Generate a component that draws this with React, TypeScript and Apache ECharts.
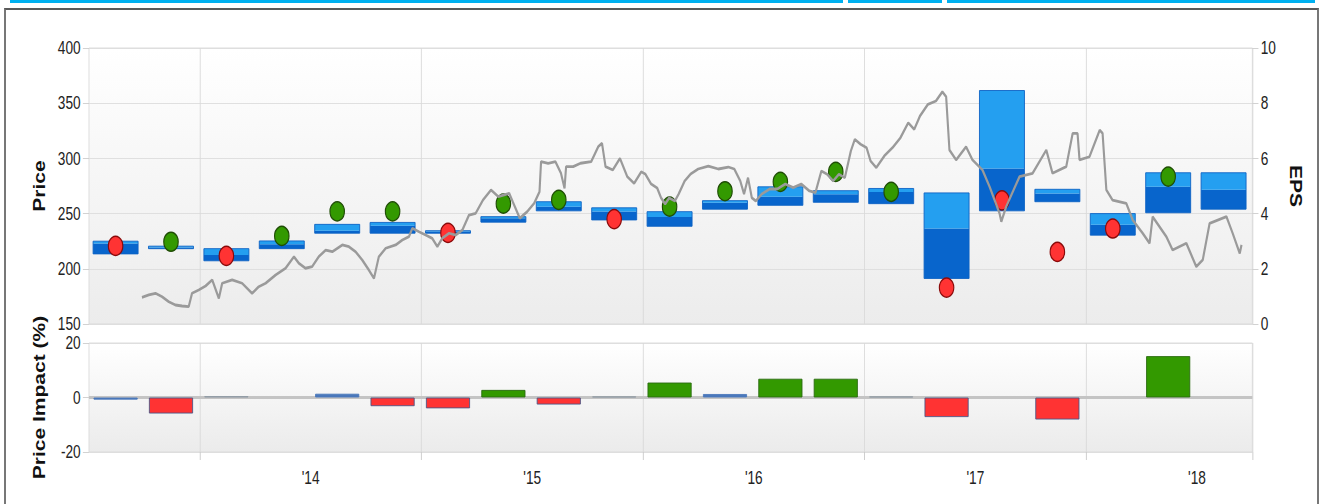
import React, { useEffect, useRef } from 'react';
import * as echarts from 'echarts';

// ---------- data ----------
const quarterTimes = [
  2013.62, 2013.87, 2014.12, 2014.37, 2014.62, 2014.87, 2015.12, 2015.37, 2015.62, 2015.87,
  2016.12, 2016.37, 2016.62, 2016.87, 2017.12, 2017.37, 2017.62, 2017.87, 2018.12, 2018.37, 2018.62,
];
const epsHigh = [3.0, 2.79, 2.73, 3.01, 3.61, 3.68, 3.38, 3.89, 4.43, 4.21, 4.07, 4.47, 4.97, 4.83, 4.91, 4.75, 8.46, 4.88, 4.0, 5.48, 5.48];
const epsMid = [2.92, 2.775, 2.5, 2.89, 3.38, 3.56, 3.35, 3.83, 4.25, 4.08, 3.88, 4.39, 4.61, 4.7, 4.78, 3.46, 5.63, 4.73, 3.6, 4.97, 4.86];
const epsLow = [2.54, 2.76, 2.29, 2.73, 3.29, 3.29, 3.29, 3.69, 4.1, 3.77, 3.54, 4.16, 4.3, 4.41, 4.36, 1.65, 4.1, 4.43, 3.22, 4.03, 4.16];
const epsActual = [2.83, 2.98, 2.47, 3.19, 4.08, 4.08, 3.3, 4.36, 4.5, 3.8, 4.25, 4.81, 5.15, 5.51, 4.79, 1.32, 4.48, 2.61, 3.46, 5.34, null];
const priceImpact = [-0.8, -5.9, 0.5, 0, 1.4, -3.2, -4.0, 2.8, -2.6, 0.4, 5.5, 1.3, 6.9, 6.9, 0.4, -7.2, 0, -8.1, 0, 15.2, 0];

const priceSeries = [
  [2013.739, 174.2], [2013.77, 176.3], [2013.8, 177.8], [2013.83, 174.7], [2013.86, 170.2], [2013.89, 167.2],
  [2013.92, 166.3], [2013.95, 165.7], [2013.965, 177.8], [2013.995, 180.8], [2014.026, 184.4], [2014.056, 189.9],
  [2014.086, 173.3], [2014.101, 186.9], [2014.146, 189.9], [2014.191, 186.9], [2014.236, 177.8], [2014.266, 183.8],
  [2014.297, 186.9], [2014.342, 194.4], [2014.387, 200.5], [2014.425, 211.0], [2014.447, 205.0], [2014.477, 200.5],
  [2014.507, 201.9], [2014.537, 211.0], [2014.568, 217.0], [2014.598, 215.5], [2014.643, 221.6], [2014.673, 220.0],
  [2014.703, 215.5], [2014.733, 208.0], [2014.763, 198.9], [2014.786, 191.4], [2014.808, 211.0], [2014.839, 218.6],
  [2014.884, 221.6], [2014.914, 226.1], [2014.944, 229.1], [2014.959, 236.7], [2014.989, 233.6], [2015.019, 230.6],
  [2015.049, 227.6], [2015.072, 220.0], [2015.094, 227.6], [2015.125, 232.2], [2015.155, 230.6], [2015.185, 235.1],
  [2015.215, 248.7], [2015.245, 250.3], [2015.278, 262.3], [2015.314, 271.4], [2015.347, 265.3], [2015.396, 268.4],
  [2015.412, 260.8], [2015.444, 245.8], [2015.477, 251.7], [2015.509, 259.3], [2015.533, 269.8], [2015.54, 297.0],
  [2015.572, 295.6], [2015.605, 297.0], [2015.63, 286.5], [2015.646, 272.9], [2015.653, 292.5], [2015.685, 292.5],
  [2015.718, 295.6], [2015.766, 297.0], [2015.798, 310.6], [2015.815, 313.7], [2015.831, 292.5], [2015.864, 289.5],
  [2015.896, 300.1], [2015.929, 283.4], [2015.96, 277.4], [2015.992, 287.9], [2016.01, 285.9], [2016.037, 276.8],
  [2016.064, 273.2], [2016.082, 264.1], [2016.1, 258.7], [2016.118, 264.1], [2016.144, 261.4], [2016.161, 267.7],
  [2016.188, 279.5], [2016.215, 285.9], [2016.249, 290.4], [2016.295, 293.1], [2016.34, 290.4], [2016.385, 292.2],
  [2016.412, 290.4], [2016.439, 279.5], [2016.456, 267.7], [2016.474, 282.5], [2016.491, 264.4], [2016.509, 261.4],
  [2016.536, 267.7], [2016.572, 272.3], [2016.606, 272.3], [2016.642, 276.8], [2016.678, 273.5], [2016.714, 276.8],
  [2016.751, 270.5], [2016.778, 268.9], [2016.805, 288.6], [2016.831, 285.6], [2016.858, 279.5], [2016.884, 285.6],
  [2016.911, 282.5], [2016.938, 306.7], [2016.956, 317.3], [2016.982, 312.8], [2017.009, 309.7], [2017.027, 297.7],
  [2017.053, 291.6], [2017.089, 302.2], [2017.126, 309.7], [2017.162, 318.8], [2017.197, 332.3], [2017.224, 326.3],
  [2017.25, 338.4], [2017.286, 349.0], [2017.322, 352.0], [2017.351, 360.4], [2017.368, 355.9], [2017.383, 307.6],
  [2017.413, 298.6], [2017.458, 310.6], [2017.487, 298.6], [2017.532, 289.5], [2017.564, 274.4], [2017.609, 250.3],
  [2017.617, 242.7], [2017.639, 256.3], [2017.699, 283.4], [2017.758, 286.5], [2017.82, 307.6], [2017.848, 286.5],
  [2017.91, 292.5], [2017.939, 322.7], [2017.961, 322.7], [2017.97, 298.6], [2018.015, 301.5], [2018.061, 325.7],
  [2018.074, 322.7], [2018.091, 271.4], [2018.119, 262.3], [2018.181, 259.3], [2018.21, 244.2], [2018.255, 232.2],
  [2018.286, 223.1], [2018.3, 247.2], [2018.362, 229.0], [2018.39, 217.0], [2018.452, 223.1], [2018.497, 201.9],
  [2018.526, 208.0], [2018.557, 241.2], [2018.633, 247.2], [2018.661, 232.2], [2018.693, 214.0], [2018.701, 221.6],
];

// ---------- layout (outer px -> inner px, chart is squeezed horizontally) ----------
const SX = 0.76;
const W = 1321 / SX;
const H = 504;
const ix = (x: number) => x / SX;
const FONT = 'Liberation Sans, Arial, sans-serif';

const X_MIN = 2013.5;
const X_MAX = 2018.75;

function impactColor(v: number) {
  if (v === 0) return { fill: 'rgba(0,0,0,0)', border: 'rgba(0,0,0,0)' };
  if (v >= 2) return { fill: '#339900', border: '#2a6a10' };
  if (v <= -2) return { fill: '#ff3333', border: '#4b5585' };
  if (Math.abs(v) >= 0.6) return { fill: '#4a78bb', border: '#4a78bb' };
  return { fill: '#8e98a3', border: '#8e98a3' };
}

export default function App() {
  const ref = useRef<HTMLDivElement>(null);

  useEffect(() => {
    if (!ref.current) return;
    const chart = echarts.init(ref.current, undefined, { renderer: 'svg' });
    const left = ix(89);
    const right = W - ix(1252.5);

    const bgUpper = new echarts.graphic.LinearGradient(0, 0, 0, 1, [
      { offset: 0, color: '#ffffff' },
      { offset: 1, color: '#ececec' },
    ]);
    const bgLower = new echarts.graphic.LinearGradient(0, 0, 0, 1, [
      { offset: 0, color: '#ffffff' },
      { offset: 1, color: '#ebebeb' },
    ]);

    const baseX = {
      type: 'value',
      min: X_MIN,
      max: X_MAX,
      interval: 0.5,
      axisLine: { show: false },
      axisTick: { show: false },
      axisLabel: { show: false },
      splitLine: { show: true, lineStyle: { color: ['rgba(0,0,0,0)', '#d9d9d9'], width: 1 } },
    };

    const boxData = quarterTimes.map((t, i) => [t, epsLow[i], epsMid[i], epsHigh[i]]);
    const dotData = quarterTimes
      .map((t, i) => ({ t, a: epsActual[i], m: epsMid[i] }))
      .filter((d) => d.a !== null)
      .map((d) => ({
        value: [d.t, d.a],
        itemStyle: (d.a as number) >= d.m
          ? { color: '#339900', borderColor: '#1f4d05', borderWidth: 1.5, opacity: 1 }
          : { color: '#ff3333', borderColor: '#8a0a0a', borderWidth: 1.5, opacity: 1 },
      }));
    const barData = quarterTimes.map((t, i) => {
      const c = impactColor(priceImpact[i]);
      return { value: [t, priceImpact[i]], itemStyle: { color: c.fill, borderColor: c.border, borderWidth: 1 } };
    });

    const axisLabelStyle = { fontSize: 18, color: '#222', fontFamily: FONT };
    const nameStyle = { fontSize: 21, fontWeight: 'bold', color: '#111', fontFamily: FONT };

    chart.setOption({
      animation: false,
      grid: [
        { left, right, top: 48, height: 276, show: true, backgroundColor: bgUpper, borderColor: '#d9d9d9', borderWidth: 1 },
        { left, right, top: 343, height: 109, show: true, backgroundColor: bgLower, borderColor: '#d9d9d9', borderWidth: 1 },
        { left, right, top: 452, height: 8, show: false },
      ],
      xAxis: [
        { ...baseX, gridIndex: 0 },
        {
          ...baseX,
          gridIndex: 1,
          axisLabel: {
            show: true,
            margin: 17,
            ...axisLabelStyle,
            formatter: (v: number) => {
              const f = v - Math.floor(v);
              if (Math.abs(f - 0.5) < 1e-6 && v > X_MIN + 0.1) return "'" + String(Math.floor(v)).slice(2);
              return '';
            },
          },
        },
        { ...baseX, gridIndex: 2, splitLine: { show: true, lineStyle: { color: ['rgba(0,0,0,0)', '#c8c8c8'], width: 1 } } },
      ],
      yAxis: [
        {
          gridIndex: 0, type: 'value', min: 150, max: 400, interval: 50,
          name: 'Price', nameLocation: 'middle', nameGap: 55, nameTextStyle: nameStyle,
          axisLine: { show: false },
          axisTick: { show: true, length: 8, lineStyle: { color: '#cccccc' } },
          axisLabel: { ...axisLabelStyle, margin: 11 },
          splitLine: { show: true, lineStyle: { color: '#dcdcdc' } },
        },
        {
          gridIndex: 0, type: 'value', position: 'right', min: 0, max: 10, interval: 2,
          name: 'EPS', nameLocation: 'middle', nameGap: 46, nameRotate: -90, nameTextStyle: nameStyle,
          axisLine: { show: false },
          axisTick: { show: true, length: 8, lineStyle: { color: '#cccccc' } },
          axisLabel: { ...axisLabelStyle, margin: 11 },
          splitLine: { show: false },
        },
        {
          gridIndex: 1, type: 'value', min: -20, max: 20, interval: 20,
          name: 'Price Impact (%)', nameLocation: 'middle', nameGap: 55, nameTextStyle: nameStyle,
          axisLine: { show: false },
          axisTick: { show: true, length: 8, lineStyle: { color: '#cccccc' } },
          axisLabel: { ...axisLabelStyle, margin: 11 },
          splitLine: { show: true, lineStyle: { color: '#dcdcdc' } },
        },
        { gridIndex: 2, type: 'value', min: 0, max: 1, show: false },
      ],
      series: [
        {
          name: 'EPS estimates',
          type: 'custom',
          xAxisIndex: 0,
          yAxisIndex: 1,
          z: 2,
          data: boxData,
          renderItem: (params: any, api: any) => {
            const t = api.value(0);
            const pLow = api.coord([t, api.value(1)]);
            const pMid = api.coord([t, api.value(2)]);
            const pHigh = api.coord([t, api.value(3)]);
            const w = api.size([0.203, 0])[0];
            const x = pLow[0] - w / 2;
            let top = pHigh[1];
            let bot = pLow[1];
            if (bot - top < 2.5) {
              const c = (top + bot) / 2;
              top = c - 1.25;
              bot = c + 1.25;
            }
            const mid = Math.min(Math.max(pMid[1], top), bot);
            return {
              type: 'group',
              children: [
                { type: 'rect', shape: { x, y: mid, width: w, height: bot - mid }, style: { fill: '#0865cc' } },
                { type: 'rect', shape: { x, y: top, width: w, height: mid - top }, style: { fill: '#249ff0' } },
                { type: 'rect', shape: { x, y: top, width: w, height: bot - top }, style: { fill: 'none', stroke: '#0d62c4', lineWidth: 1 } },
              ],
            };
          },
        },
        {
          name: 'EPS actual',
          type: 'scatter',
          xAxisIndex: 0,
          yAxisIndex: 1,
          z: 3,
          symbol: 'circle',
          symbolSize: 19,
          itemStyle: { opacity: 1 },
          data: dotData,
        },
        {
          name: 'Price',
          type: 'line',
          xAxisIndex: 0,
          yAxisIndex: 0,
          z: 4,
          showSymbol: false,
          symbol: 'none',
          lineStyle: { color: '#9a9a9a', width: 2.8 },
          data: priceSeries,
        },
        {
          name: 'Zero line',
          type: 'line',
          xAxisIndex: 1,
          yAxisIndex: 2,
          z: 1,
          silent: true,
          showSymbol: false,
          symbol: 'none',
          lineStyle: { color: '#c4c4c4', width: 3 },
          data: [[X_MIN, 0], [X_MAX, 0]],
        },
        {
          name: 'Price Impact',
          type: 'bar',
          xAxisIndex: 1,
          yAxisIndex: 2,
          z: 2,
          barWidth: ix(44),
          data: barData,
        },
      ],
    });
    return () => chart.dispose();
  }, []);

  const cyan = '#00b0f0';
  return (
    <div style={{ position: 'fixed', left: 0, top: 0, width: 1321, height: 504, overflow: 'hidden', background: '#fff' }}>
      <div style={{ position: 'absolute', left: 10, top: 0, width: 833, height: 3, background: cyan }} />
      <div style={{ position: 'absolute', left: 848, top: 0, width: 94, height: 3, background: cyan }} />
      <div style={{ position: 'absolute', left: 947, top: 0, width: 368, height: 3, background: cyan }} />
      <div style={{ position: 'absolute', left: 4, top: 8, width: 1311, height: 520, border: '2px solid #777', borderTopColor: '#5a5a5a', boxSizing: 'content-box' }} />
      <div
        ref={ref}
        style={{ position: 'absolute', left: 0, top: 0, width: W, height: H, transform: `scaleX(${SX})`, transformOrigin: '0 0' }}
      />
    </div>
  );
}
